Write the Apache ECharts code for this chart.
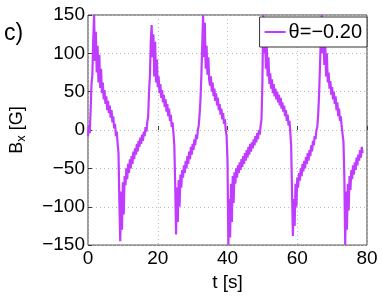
<!DOCTYPE html>
<html>
<head>
<meta charset="utf-8">
<script src="https://cdn.jsdelivr.net/npm/echarts@6/dist/echarts.min.js"></script>
<style>
  html, body { margin: 0; padding: 0; background: #fff; }
  #main { width: 382px; height: 297px; }
</style>
</head>
<body>
<div id="main"></div>
<script>
// sampling of the trace (seconds)
const t0 = 0;
const dt = 0.25;

// B_x [G], one value every 0.25 s
const bx = [
  -8, 6, -4, 25, 60, 72, 118, 150,
  90, 128, 75, 110, 62, 98, 55, 80,
  48, 62, 40, 52, 34, 44, 26, 38, 22, 32, 16, 26, 10, 18, 2, 8, -8, -2, -18, -30,
  -95, -145, -80, -130, -68, -110, -60, -72,
  -50, -64, -44, -56, -38, -50, -34, -44, -28, -38, -24, -32, -18, -28, -14, -22, -10, -18, -6, -14, -2, -8, 4, -2,
  10, 18, 50, 70, 115, 137,
  95, 125, 70, 115, 62, 92,
  56, 70, 48, 60, 42, 52, 36, 46, 30, 40, 24, 34, 18, 28, 12, 20, 4, 10, -4,
  -20, -70, -136, -75, -120, -65, -100, -58, -75,
  -52, -62, -46, -56, -40, -50, -34, -44, -28, -38, -22, -32, -18, -26, -12, -20, -6, -12, 0, 6,
  20, 40, 70, 110, 150,
  95, 140, 80, 110, 72, 95, 65,
  58, 70, 50, 62, 44, 54, 38, 48, 32, 42, 26, 34, 20, 28, 14, 22, 8, 14, 0, -8,
  -40, -150, -90, -140, -70, -120, -60, -95,
  -55, -70, -50, -62, -46, -56, -42, -52, -38, -48, -34, -44, -30, -40, -26, -36, -22, -32, -18, -28, -16, -24, -12, -20, -8, -16, -4, -12, 0, -6,
  6, 14, 60, 150,
  100, 135, 80, 110, 70, 95,
  60, 74, 54, 66, 48, 60, 44, 54, 40, 50, 36, 46, 32, 42, 28, 36, 24, 32, 18, 26, 12, 20, 6, 12, -2,
  -20, -80, -138, -90, -125, -70, -100, -62, -75,
  -56, -66, -50, -60, -44, -54, -40, -50, -35, -44, -30, -40, -26, -34, -20, -28, -14, -20, -8, -12, 0, 4,
  20, 45, 80, 120, 150,
  100, 140, 85, 120, 70, 100, 62, 75,
  54, 64, 46, 56, 40, 50, 34, 44, 26, 36, 18, 28, 12, 18, 4, 2,
  -15, -60, -150, -80, -130, -70, -105, -60, -78,
  -52, -64, -46, -58, -42, -52, -36, -46, -32, -40, -26, -36, -22, -30
];

const xTicks = [0, 20, 40, 60, 80];
const yTicks = [-150, -100, -50, 0, 50, 100, 150];
const seriesName = 'θ=−0.20';

const FONT = 'Liberation Sans, Arial, Helvetica, sans-serif';
const minus = (v) => String(v).replace('-', '−');

const points = bx.map((v, i) => [t0 + i * dt, v]);

const chart = echarts.init(document.getElementById('main'));
chart.setOption({
  animation: false,
  backgroundColor: '#fff',
  textStyle: { fontFamily: FONT },
  grid: {
    left: 82, right: 15, top: 15, bottom: 44,
    show: true, borderColor: '#3a3a3a', borderWidth: 1
  },
  graphic: [{
    type: 'text', left: 4, top: 22,
    style: { text: 'c)', font: '23px ' + FONT, fill: '#000' }
  }],
  legend: {
    right: 15, top: 17,
    data: [seriesName],
    icon: 'rect', itemWidth: 21, itemHeight: 2,
    padding: [5, 5, 5, 5],
    backgroundColor: '#fff', borderColor: '#333', borderWidth: 1, borderRadius: 0,
    textStyle: { fontSize: 20, color: '#000', fontFamily: FONT, padding: [0, 0, 0, -2] }
  },
  xAxis: {
    type: 'value', min: xTicks[0], max: xTicks[xTicks.length - 1], interval: 20,
    name: 't [s]', nameLocation: 'middle', nameGap: 26,
    nameTextStyle: { fontSize: 19, color: '#000', fontFamily: FONT },
    axisLine: { show: false },
    axisTick: { show: true, inside: true, length: 4, lineStyle: { color: '#3a3a3a' } },
    axisLabel: { fontSize: 19, color: '#000', margin: 4, fontFamily: FONT },
    splitLine: { show: true, lineStyle: { type: [1, 3], color: '#bbb', width: 1 } }
  },
  yAxis: {
    type: 'value', min: yTicks[0], max: yTicks[yTicks.length - 1], interval: 50,
    name: '{b|B}{s|x}{b| [G]}', nameLocation: 'middle', nameGap: 60, nameRotate: 90,
    nameTextStyle: {
      color: '#000', fontFamily: FONT,
      rich: {
        b: { fontSize: 18, fontFamily: FONT, color: '#000' },
        s: { fontSize: 13, fontFamily: FONT, color: '#000', verticalAlign: 'bottom', padding: [9, 0, 0, 0] }
      }
    },
    axisLine: { show: false },
    axisTick: { show: true, inside: true, length: 4, lineStyle: { color: '#3a3a3a' } },
    axisLabel: { fontSize: 19, color: '#000', margin: 3, fontFamily: FONT, formatter: minus },
    splitLine: { show: true, lineStyle: { type: [1, 3], color: '#bbb', width: 1 } }
  },
  series: [{
    name: seriesName,
    type: 'line',
    data: points,
    showSymbol: false,
    color: '#c03cff',
    lineStyle: { width: 2.2, color: '#c03cff' },
    clip: true
  }]
});
</script>
</body>
</html>
